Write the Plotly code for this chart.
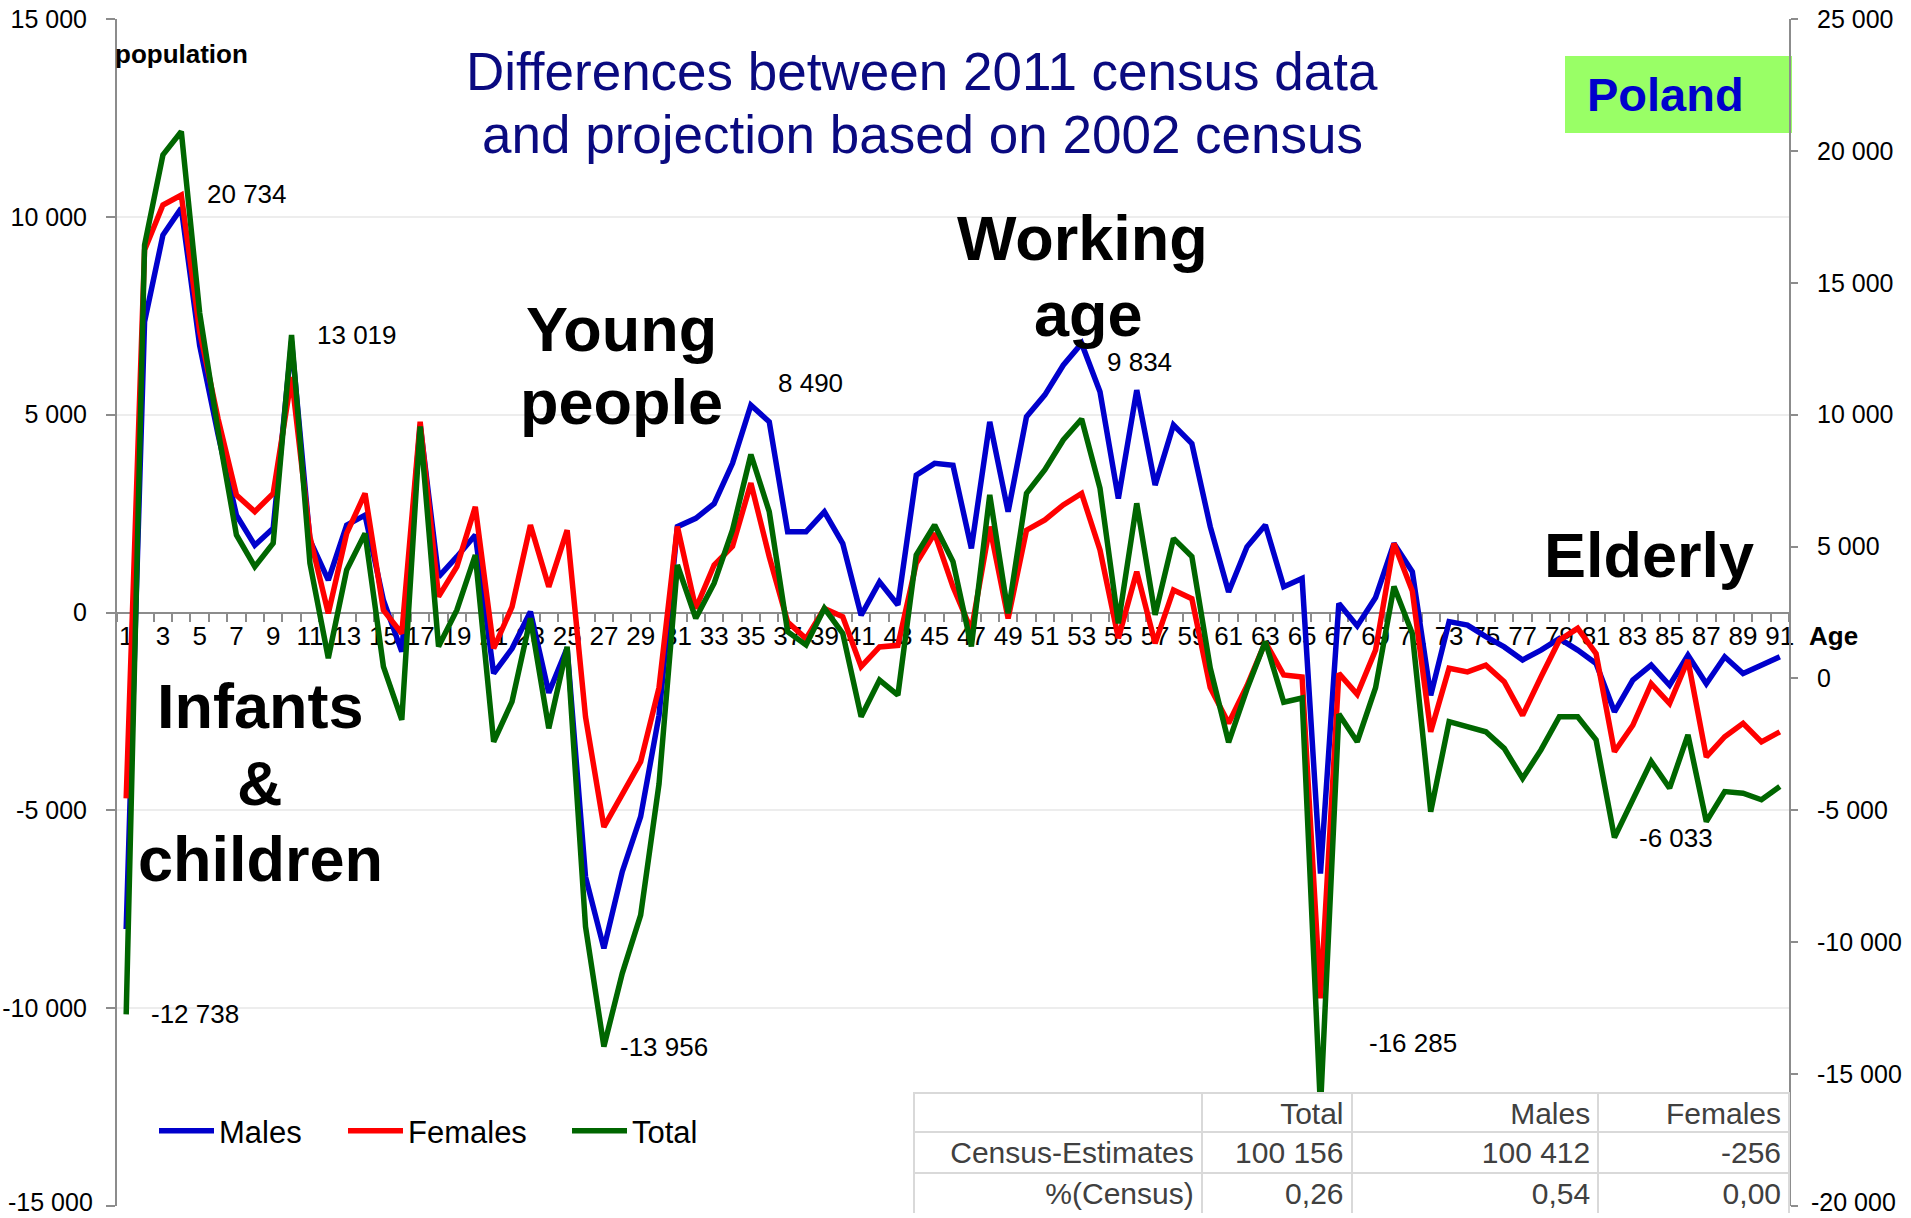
import plotly.graph_objects as go

# ---------------------------------------------------------------- data
ages = list(range(1, 92))

males = [
    -8000, 7350, 9540, 10220, 6750, 4500, 2460, 1700, 2130, 6850,
    1830, 820, 2210, 2460, 310, -990, 4740, 900, 1410, 1960,
    -1540, -910, 20, -2030, -900, -6680, -8490, -6550, -5160, -2600,
    2170, 2380, 2750, 3770, 5240, 4820, 2040, 2040, 2545, 1740,
    -70, 775, 190, 3470, 3770, 3720, 1620, 4820, 2545, 4950,
    5500, 6250, 6800, 5580, 2880, 5620, 3220, 4740, 4270, 2170,
    520, 1660, 2210, 650, 860, -6600, 230, -340, 380, 1745,
    1030, -2095, -230, -320, -610, -870, -1200, -950, -660, -950,
    -1290, -2510, -1710, -1330, -1840, -1080, -1800, -1120, -1540, -1330,
    -1120,
]

females = [
    -4700, 9160, 10300, 10550, 7100, 4900, 2970, 2550, 3010, 5950,
    1910, -20, 2000, 3010, 60, -530, 4820, 400, 1160, 2670,
    -910, 140, 2210, 650, 2080, -2640, -5420, -4570, -3770, -1900,
    2170, 100, 1200, 1670, 3270, 1410, -240, -660, 100, -110,
    -1370, -870, -830, 1240, 2000, 650, -450, 2170, -150, 2080,
    2340, 2720, 3010, 1580, -650, 1030, -780, 570, 350, -1900,
    -2800, -1850, -750, -1580, -1630, -9750, -1540, -2070, -950, 1745,
    540, -3015, -1410, -1500, -1330, -1750, -2600, -1630, -700, -400,
    -1040, -3520, -2850, -1800, -2300, -1200, -3650, -3140, -2800, -3270,
    -3015,
]

total = [
    -12738, 16430, 19850, 20734, 13850, 9400, 5440, 4240, 5125, 13019,
    4370, 770, 4110, 5500, 450, -1570, 9550, 1210, 2600, 4680,
    -2400, -880, 2280, -1890, 1200, -9410, -13956, -11180, -8970, -4000,
    4300, 2280, 3610, 5630, 8490, 6320, 1770, 1270, 2660, 1710,
    -1450, -60, -630, 4680, 5820, 4430, 1210, 6960, 2470, 7020,
    7910, 9040, 9834, 7210, 2090, 6640, 2410, 5310, 4620, 400,
    -2420, -400, 1400, -900, -740, -16285, -1350, -2400, -350, 3485,
    1700, -5050, -1640, -1830, -2020, -2650, -3790, -2710, -1450, -1450,
    -2330, -6033, -4600, -3150, -4160, -2140, -5430, -4290, -4350, -4600,
    -4100,
]

left_ticks = [-15000, -10000, -5000, 0, 5000, 10000, 15000]
right_ticks = [-20000, -15000, -10000, -5000, 0, 5000, 10000, 15000, 20000, 25000]
age_ticks = [a for a in ages if a % 2 == 1]

# ages whose Total value is written next to the line
labelled_ages = [1, 4, 10, 27, 35, 53, 66, 82]

table_header = ["", "Total", "Males", "Females"]
table_rows = ["Census-Estimates", "%(Census)"]
table_total = ["100 156", "0,26"]
table_males = ["100 412", "0,54"]
table_females = ["-256", "0,00"]

# ---------------------------------------------------------------- layout helpers
W, H = 1911, 1218
ML, MR, MT, MB = 117, 122, 19, 5
PW, PH = W - ML - MR, H - MT - MB
FONT = "Liberation Sans, Arial, sans-serif"


def px(x):
    return (x - ML) / PW


def py(y):
    return (H - MB - y) / PH


def fmt(v):
    return "{:,}".format(int(v)).replace(",", " ")


y_dom = [py(1206), 1.0]

BLUE, RED, GREEN = "#0000CC", "#FF0000", "#006600"
AXIS_GREY = "#8C8C8C"
TICK_FONT = dict(family=FONT, size=25, color="black")

fig = go.Figure()
fig.add_trace(go.Scatter(x=ages, y=males, name="Males", mode="lines",
                         line=dict(color=BLUE, width=5.5), legend="legend"))
fig.add_trace(go.Scatter(x=ages, y=females, name="Females", mode="lines",
                         line=dict(color=RED, width=5.5), legend="legend2"))
fig.add_trace(go.Scatter(x=ages, y=total, name="Total", mode="lines", yaxis="y2",
                         line=dict(color=GREEN, width=5.5), legend="legend3"))

# summary table in the lower right corner
fig.add_trace(go.Table(
    domain=dict(x=[px(914), 1.0], y=[0.0, py(1093)]),
    columnwidth=[288, 150, 247, 191],
    header=dict(values=table_header, height=39, align="right",
                fill_color="white", line=dict(color="#D9D9D9", width=2),
                font=dict(family=FONT, size=30, color="#404040")),
    cells=dict(values=[table_rows, table_total, table_males, table_females],
               height=41, align="right", fill_color="white",
               line=dict(color="#D9D9D9", width=2),
               font=dict(family=FONT, size=30, color="#404040")),
))

annotations = []

# Total values written beside selected points
label_offsets = {1: (23, 0), 4: (24, -62), 10: (23, 0), 27: (14, 0),
                 35: (25, 72), 53: (23, 57), 66: (47, 65), 82: (23, 0)}
for a in labelled_ages:
    dx, dy = label_offsets[a]
    annotations.append(dict(x=a, y=total[ages.index(a)], xref="x", yref="y2",
                            text=fmt(total[ages.index(a)]), showarrow=False,
                            xanchor="left", yanchor="middle", xshift=dx, yshift=dy,
                            font=dict(family=FONT, size=26, color="black")))

# lowest tick labels of both value axes, lifted so they stay inside the page
annotations.append(dict(x=0, y=left_ticks[0], xref="paper", yref="y",
                        text=fmt(left_ticks[0]), showarrow=False,
                        xanchor="right", yanchor="bottom", xshift=-22, yshift=-12,
                        font=TICK_FONT))
annotations.append(dict(x=1, y=right_ticks[0], xref="paper", yref="y2",
                        text=fmt(right_ticks[0]), showarrow=False,
                        xanchor="left", yanchor="bottom", xshift=20, yshift=-12,
                        font=TICK_FONT))

# title
for txt, yc in [("Differences between 2011 census data", 71),
                ("and projection based on 2002 census", 134)]:
    annotations.append(dict(x=px(922), y=py(yc), xref="paper", yref="paper",
                            text=txt, showarrow=False, xanchor="center", yanchor="middle",
                            font=dict(family=FONT, size=53, color="#0A0A80")))

# age-group captions
for txt, xc, yc in [("Young", 621, 329), ("people", 621, 402),
                    ("Working", 1082, 238), ("age", 1088, 314),
                    ("Infants", 260, 706), ("&", 260, 783), ("children", 260, 859),
                    ("Elderly", 1649, 555)]:
    annotations.append(dict(x=px(xc), y=py(yc), xref="paper", yref="paper",
                            text="<b>%s</b>" % txt, showarrow=False,
                            xanchor="center", yanchor="middle",
                            font=dict(family=FONT, size=63, color="black")))

# axis captions
annotations.append(dict(x=px(113), y=py(54), xref="paper", yref="paper",
                        text="<b>population</b>", showarrow=False,
                        xanchor="left", yanchor="middle",
                        font=dict(family=FONT, size=26, color="black")))
annotations.append(dict(x=px(1807), y=py(636), xref="paper", yref="paper",
                        text="<b>Age</b>", showarrow=False,
                        xanchor="left", yanchor="middle",
                        font=dict(family=FONT, size=26, color="black")))

# country badge
annotations.append(dict(x=px(1665), y=py(94), xref="paper", yref="paper",
                        text="<b>Poland</b>", showarrow=False,
                        xanchor="center", yanchor="middle",
                        font=dict(family=FONT, size=47, color="#0000CC")))

shapes = [dict(type="rect", xref="paper", yref="paper",
               x0=px(1565), x1=px(1792), y0=py(133), y1=py(56),
               fillcolor="#99FF66", line=dict(width=0), layer="below")]

legend_common = dict(orientation="h", xanchor="left", yanchor="middle",
                     bgcolor="rgba(0,0,0,0)", borderwidth=0, itemwidth=55,
                     font=dict(family=FONT, size=31, color="black"))

fig.update_layout(
    width=W, height=H,
    margin=dict(l=ML, r=MR, t=MT, b=MB, autoexpand=False),
    paper_bgcolor="white", plot_bgcolor="white",
    showlegend=True,
    legend=dict(x=px(154), y=py(1131), **legend_common),
    legend2=dict(x=px(343), y=py(1131), **legend_common),
    legend3=dict(x=px(567), y=py(1131), **legend_common),
    xaxis=dict(
        range=[0.5, 91.5], anchor="free", position=(y_dom[0] + y_dom[1]) / 2,
        tickvals=age_ticks, ticktext=[str(a) for a in age_ticks],
        ticks="", showgrid=False, zeroline=False,
        showline=True, linecolor=AXIS_GREY, linewidth=2,
        tickfont=dict(family=FONT, size=26, color="black"),
        minor=dict(tickmode="linear", tick0=0.5, dtick=1, ticks="outside",
                   ticklen=8, tickwidth=2, tickcolor=AXIS_GREY, showgrid=False),
        layer="below traces",
    ),
    yaxis=dict(
        domain=y_dom, range=[-15000, 15000],
        tickvals=left_ticks,
        ticktext=[""] + [fmt(v) for v in left_ticks[1:]],
        ticks="outside", ticklen=9, tickwidth=2, tickcolor=AXIS_GREY,
        showline=True, linecolor=AXIS_GREY, linewidth=2,
        showgrid=True, gridcolor="#EDEDED", gridwidth=2, zeroline=False,
        ticklabelstandoff=14, tickfont=TICK_FONT,
    ),
    yaxis2=dict(
        domain=y_dom, range=[-20000, 25000], overlaying="y", side="right",
        tickvals=right_ticks,
        ticktext=[""] + [fmt(v) for v in right_ticks[1:]],
        ticks="outside", ticklen=7, tickwidth=2, tickcolor=AXIS_GREY,
        showline=True, linecolor=AXIS_GREY, linewidth=2,
        showgrid=False, zeroline=False, ticklabelstandoff=14,
        tickfont=TICK_FONT,
    ),
    annotations=annotations,
    shapes=shapes,
)

fig.write_html("out.html")
